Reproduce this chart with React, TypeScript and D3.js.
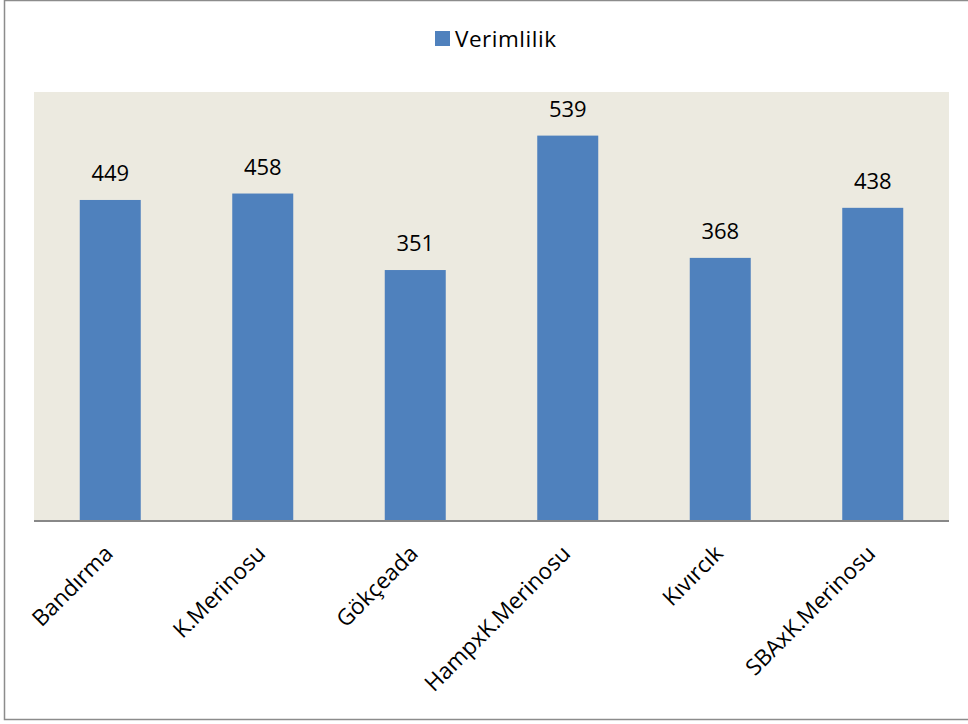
import React from "react";
import * as d3 from "d3";

const categories = ["Bandırma", "K.Merinosu", "Gökçeada", "HampxK.Merinosu", "Kıvırcık", "SBAxK.Merinosu"];
const values = [449, 458, 351, 539, 368, 438];
const seriesName = "Verimlilik";

export default function App() {
  const W = 968, H = 724;
  const plot = { left: 34, right: 949, top: 92, bottom: 521 };
  const x = d3.scaleBand<string>().domain(categories).range([plot.left, plot.right]).paddingInner(0.6).paddingOuter(0.3);
  const y = d3.scaleLinear().domain([0, 600]).range([plot.bottom, plot.top]);
  const font = "'Open Sans', sans-serif";
  return (
    <svg width={W} height={H} style={{ position: "absolute", left: 0, top: 0 }} fontFamily={font}>
      <rect x={0} y={0} width={W} height={H} fill="#fff" />
      <rect x={4.5} y={0.5} width={W + 10} height={719} fill="none" stroke="#8c8c8c" strokeWidth={1.5} />
      <rect x={plot.left} y={plot.top} width={plot.right - plot.left} height={plot.bottom - plot.top} fill="#ECEAE0" />
      {categories.map((c, i) => (
        <rect key={c} x={x(c)} y={y(values[i])} width={x.bandwidth()} height={plot.bottom - y(values[i])} fill="#4F81BD" />
      ))}
      <line x1={plot.left} x2={plot.right} y1={plot.bottom} y2={plot.bottom} stroke="#888" strokeWidth={2} />
      {categories.map((c, i) => (
        <text key={c + "v"} x={x(c)! + x.bandwidth() / 2} y={y(values[i]) - 19} textAnchor="middle" fontSize={22} fill="#000">
          {values[i]}
        </text>
      ))}
      {categories.map((c) => {
        const cx = x(c)! + x.bandwidth() / 2 + 4;
        const cy = 555;
        return (
          <text key={c + "l"} x={cx} y={cy} transform={`rotate(-45 ${cx} ${cy})`} textAnchor="end" fontSize={22.5} fill="#000">
            {c}
          </text>
        );
      })}
      <rect x={435} y={31} width={15} height={15} fill="#4F81BD" />
      <text x={455} y={47} fontSize={22.5} fill="#000" textLength={101}>{seriesName}</text>
    </svg>
  );
}
